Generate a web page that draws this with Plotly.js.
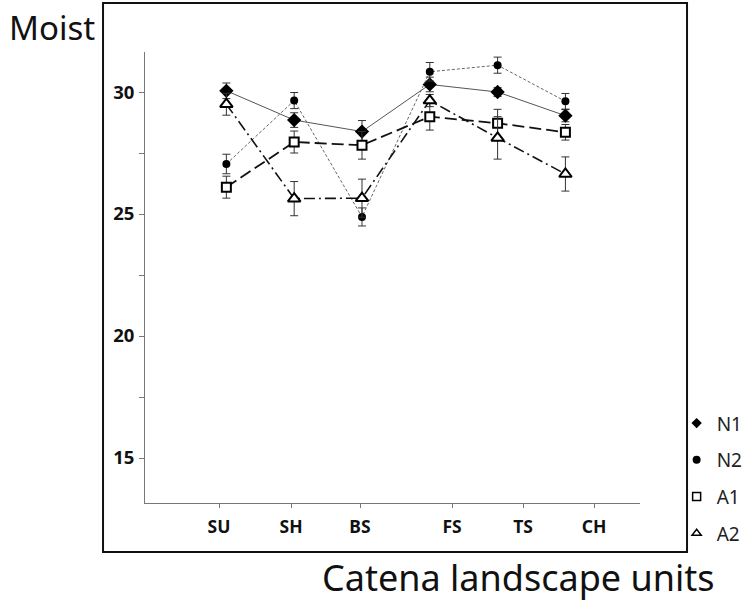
<!DOCTYPE html>
<html>
<head>
<meta charset="utf-8">
<script src="https://cdn.plot.ly/plotly-3.0.1.min.js"></script>
<style>html,body{margin:0;padding:0;background:#fff;}#chart{width:747px;height:605px;}</style>
</head>
<body>
<div id="chart"></div>
<script>
// ---- data ----
const categories = ['SU', 'SH', 'BS', 'FS', 'TS', 'CH'];
const seriesNames = ['N1', 'N2', 'A1', 'A2'];
const n1 = [30.05, 28.85, 28.38, 30.31, 30.0, 29.03];
const n1Err = [0.32, 0.3, 0.45, 0.3, 0.18, 0.25];
const n2 = [27.05, 29.65, 24.88, 30.83, 31.1, 29.62];
const n2Err = [0.4, 0.33, 0.37, 0.38, 0.33, 0.32];
const a1 = [26.1, 27.95, 27.82, 28.99, 28.72, 28.35];
const a1Err = [0.45, 0.45, 0.57, 0.55, 0.57, 0.32];
const a2 = [29.5, 25.63, 25.65, 29.65, 28.12, 26.64];
const a2Err = [0.45, 0.7, 0.78, 0.25, 0.87, 0.7];
const yTickVals = [15, 17.5, 20, 22.5, 25, 27.5, 30];
const yTickText = ['15', '', '20', '', '25', '', '30'];

const FONT = '"Noto Sans", "Open Sans", sans-serif';
const styles = [
  {symbol: 'diamond', size: 11, color: '#000', lineColor: '#000', lineW: 0, line: {color: '#555', width: 1, dash: 'solid'}},
  {symbol: 'circle', size: 8, color: '#000', lineColor: '#000', lineW: 0, line: {color: '#666', width: 1, dash: '3px,2px'}},
  {symbol: 'square', size: 9, color: '#fff', lineColor: '#000', lineW: 2, line: {color: '#111', width: 1.8, dash: '12px,5px'}},
  {symbol: 'triangle-up', size: 11, color: '#fff', lineColor: '#000', lineW: 2, line: {color: '#111', width: 1.6, dash: '11px,4px,2px,4px'}}
];
const values = [n1, n2, a1, a2];
const errs = [n1Err, n2Err, a1Err, a2Err];

const traces = [];
values.forEach((v, i) => {
  const s = styles[i];
  traces.push({
    type: 'scatter', mode: 'lines+markers', x: categories, y: v,
    xaxis: 'x', yaxis: 'y', showlegend: false, name: seriesNames[i],
    line: s.line,
    marker: {symbol: s.symbol, size: s.size, color: s.color, line: {color: s.lineColor, width: s.lineW}},
    error_y: {type: 'data', array: errs[i], visible: true, color: '#333', thickness: 1, width: 4}
  });
});
// legend-only entries (markers only)
values.forEach((v, i) => {
  const s = styles[i];
  traces.push({
    type: 'scatter', mode: 'markers', x: [null], y: [null], xaxis: 'x', yaxis: 'y',
    name: seriesNames[i], legendgroup: 'g' + i, showlegend: true,
    marker: {symbol: s.symbol, size: Math.min(s.size, 8), color: s.color, line: {color: s.lineColor, width: s.lineW ? 1.5 : 0}}
  });
});

const layout = {
  width: 747, height: 605,
  margin: {l: 145, r: 107, t: 52, b: 102, autoexpand: false},
  paper_bgcolor: '#fff', plot_bgcolor: '#fff',
  font: {family: FONT, color: '#111'},
  showlegend: true,
  legend: {x: 1.074, xanchor: 'left', y: 0.219, yanchor: 'top', traceorder: 'grouped', tracegroupgap: 9,
           font: {family: FONT, size: 19, color: '#222'}, bgcolor: 'rgba(0,0,0,0)', itemwidth: 30},
  xaxis: {type: 'category', categoryarray: categories, range: [-1.2, 6.1], showticklabels: false, ticks: '',
          showline: true, linecolor: '#777', linewidth: 1, showgrid: false, zeroline: false, fixedrange: true},
  xaxis2: {overlaying: 'x', anchor: 'y', side: 'bottom', range: [145, 640],
           tickmode: 'array', tickvals: [219, 291, 360, 452, 523, 594], ticktext: categories,
           ticks: 'outside', ticklen: 4, tickcolor: '#777', showline: false, showgrid: false, zeroline: false,
           tickfont: {family: FONT, size: 17.5, weight: 'bold', color: '#111'}, ticklabelstandoff: 4},
  yaxis: {range: [13.156, 31.64], tickmode: 'array', tickvals: yTickVals, ticktext: yTickText,
          ticks: 'outside', ticklen: 5, tickcolor: '#777', showline: true, linecolor: '#777', linewidth: 1,
          showgrid: false, zeroline: false, ticklabelstandoff: 1,
          tickfont: {family: FONT, size: 18.5, weight: 'bold', color: '#111'}},
  shapes: [{type: 'rect', xref: 'paper', yref: 'paper', x0: -0.0848, x1: 1.095, y0: -0.1086, y1: 1.1086,
            line: {color: '#111', width: 2}, fillcolor: 'rgba(0,0,0,0)'}],
  annotations: [
    {text: 'Moist', xref: 'paper', yref: 'paper', x: -0.279, xanchor: 'left', y: 1.055, yanchor: 'middle',
     showarrow: false, font: {family: FONT, size: 33, color: '#111'}},
    {text: 'Catena landscape units', xref: 'paper', yref: 'paper', x: 0.7545, xanchor: 'center', y: -0.166, yanchor: 'middle',
     showarrow: false, font: {family: FONT, size: 36, color: '#111'}}
  ]
};

// dummy trace so xaxis2 exists
traces.push({type: 'scatter', mode: 'markers', x: [null], y: [null], xaxis: 'x2', yaxis: 'y', showlegend: false, hoverinfo: 'skip'});

Plotly.newPlot('chart', traces, layout, {displayModeBar: false, staticPlot: true});
</script>
</body>
</html>
